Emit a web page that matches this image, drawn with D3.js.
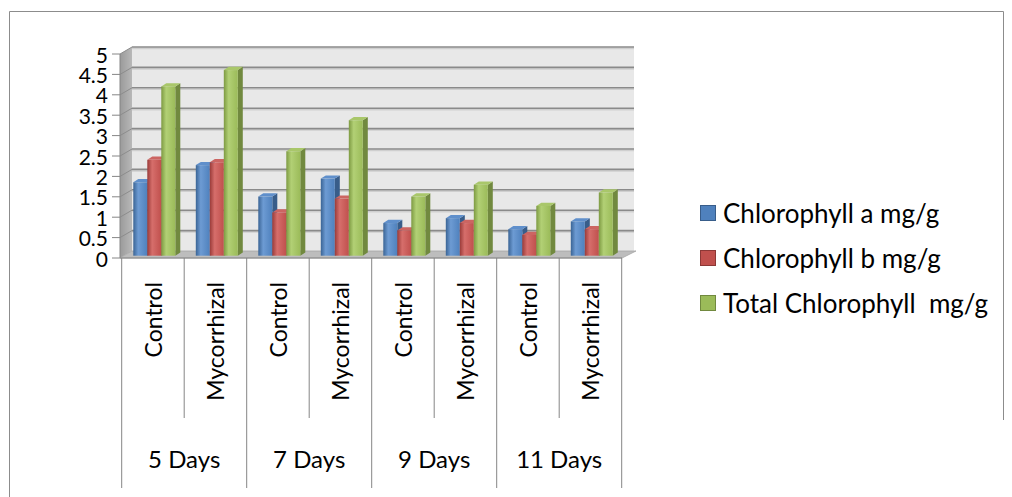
<!DOCTYPE html>
<html>
<head>
<meta charset="utf-8">
<script src="https://cdn.jsdelivr.net/npm/d3@7"></script>
<style>
  body { margin: 0; background: #fff; }
  svg { display: block; }
  text { font-family: Lato, "Open Sans", sans-serif; fill: #000; white-space: pre; }
</style>
</head>
<body>
<div id="chart"></div>
<script>
// chart data
const groups = ["5 Days", "7 Days", "9 Days", "11 Days"];
const treatments = ["Control", "Mycorrhizal"];
const seriesNames = ["Chlorophyll a mg/g", "Chlorophyll b mg/g", "Total Chlorophyll  mg/g"];
const chlA = [1.8, 2.22, 1.45, 1.89, 0.8, 0.92, 0.65, 0.84];
const chlB = [2.35, 2.29, 1.06, 1.4, 0.62, 0.8, 0.51, 0.65];
const chlTotal = [4.15, 4.55, 2.56, 3.32, 1.45, 1.74, 1.22, 1.55];
const yTicks = [0, 0.5, 1, 1.5, 2, 2.5, 3, 3.5, 4, 4.5, 5];

const colors = [
  {base: "#4f81bd", light: "#6d9bd3", dark: "#3a6495", side: "#385d8a", top: "#5f8fcb"},
  {base: "#c0504d", light: "#d66e6b", dark: "#9a3b39", side: "#8c3836", top: "#cc6562"},
  {base: "#9bbb59", light: "#b2d075", dark: "#7d9a42", side: "#71893f", top: "#a9c76a"}
];

const W = 1012, H = 497;
const depthX = 12, depthY = -7;   // 3d offset from front plane to back wall

const cats = [];
groups.forEach(g => treatments.forEach(t => cats.push(g + "|" + t)));
const values = [chlA, chlB, chlTotal];

const svg = d3.select("#chart").append("svg")
  .attr("width", W).attr("height", H);

const defs = svg.append("defs");
colors.forEach((c, i) => {
  const lg = defs.append("linearGradient").attr("id", "front" + i)
    .attr("x1", 0).attr("x2", 1).attr("y1", 0).attr("y2", 0);
  lg.append("stop").attr("offset", "0%").attr("stop-color", c.dark);
  lg.append("stop").attr("offset", "35%").attr("stop-color", c.light);
  lg.append("stop").attr("offset", "100%").attr("stop-color", c.base);
});
const wg = defs.append("linearGradient").attr("id", "sideWall")
  .attr("x1", 0).attr("x2", 1).attr("y1", 0).attr("y2", 0);
wg.append("stop").attr("offset", "0%").attr("stop-color", "#9a9a9a");
wg.append("stop").attr("offset", "100%").attr("stop-color", "#b8b8b8");

// outer frame
svg.append("path")
  .attr("d", "M9.5,497 V11.5 H1003.5 V420")
  .attr("fill", "none").attr("stroke", "#8c8c8c").attr("stroke-width", 1);

const x = d3.scaleBand().domain(cats).range([121.7, 621.7]);
const y = d3.scaleLinear().domain([0, 5]).range([258, 54]);
const xs = d3.scaleBand().domain([0, 1, 2]).range([0, 42]);

const left = 120, right = 622;

// back wall
svg.append("rect")
  .attr("x", left + depthX).attr("y", y(5) + depthY)
  .attr("width", right - left).attr("height", y(0) - y(5))
  .attr("fill", "#e8e8e8");

// side wall
svg.append("polygon")
  .attr("points", [[left, y(5)], [left + depthX, y(5) + depthY], [left + depthX, y(0) + depthY], [left, y(0)]].join(" "))
  .attr("fill", "url(#sideWall)");

// gridlines on back and side walls
const grid = svg.append("g");
yTicks.slice(1).forEach(t => {
  const yb = y(t) + depthY;
  grid.append("line")
    .attr("x1", left + depthX).attr("x2", right + depthX)
    .attr("y1", yb + 1.5).attr("y2", yb + 1.5)
    .attr("stroke", "#cfcfcf").attr("stroke-width", 1.5);
  grid.append("line")
    .attr("x1", left + depthX).attr("x2", right + depthX)
    .attr("y1", yb).attr("y2", yb)
    .attr("stroke", "#8a8a8a").attr("stroke-width", 1.6);
  grid.append("line")
    .attr("x1", left).attr("x2", left + depthX)
    .attr("y1", y(t)).attr("y2", yb)
    .attr("stroke", "#8c8c8c").attr("stroke-width", 1);
});

// floor
svg.append("polygon")
  .attr("points", [[left, y(0)], [right, y(0)], [right + depthX + 2, y(0) + depthY], [left + depthX, y(0) + depthY]].join(" "))
  .attr("fill", "#bdbdbd").attr("stroke", "#a6a6a6").attr("stroke-width", 0.8);

// bars (3d columns)
const barDepth = 5, barRise = -3.2;
const yBar = d3.scaleLinear().domain([0, 5]).range([255.7, 51.7]);
const bars = svg.append("g");
cats.forEach((c, ci) => {
  [0, 1, 2].forEach(si => {
    const v = values[si][ci];
    const x0 = x(c) + 11.6 + xs(si), bw = xs.bandwidth();
    const y0 = yBar(v), yb = yBar(0);
    const col = colors[si];
    const g = bars.append("g");
    g.append("polygon")
      .attr("points", [[x0 + bw, y0], [x0 + bw + barDepth, y0 + barRise], [x0 + bw + barDepth, yb + barRise], [x0 + bw, yb]].join(" "))
      .attr("fill", col.side);
    g.append("polygon")
      .attr("points", [[x0, y0], [x0 + barDepth, y0 + barRise], [x0 + bw + barDepth, y0 + barRise], [x0 + bw, y0]].join(" "))
      .attr("fill", col.top);
    g.append("rect")
      .attr("x", x0).attr("y", y0).attr("width", bw).attr("height", yb - y0)
      .attr("fill", "url(#front" + si + ")");
  });
});

// y axis
const yAxis = svg.append("g");
yAxis.append("line").attr("x1", left).attr("x2", left).attr("y1", y(5)).attr("y2", y(0))
  .attr("stroke", "#868686");
yTicks.forEach(t => {
  yAxis.append("line").attr("x1", 112).attr("x2", left)
    .attr("y1", y(t)).attr("y2", y(t)).attr("stroke", "#868686");
  yAxis.append("text").attr("x", 108).attr("y", y(t))
    .attr("text-anchor", "end").attr("dominant-baseline", "central")
    .style("font-size", "21px").text(t);
});

// category axis with two levels
const xAxis = svg.append("g");
xAxis.append("line").attr("x1", left).attr("x2", right).attr("y1", y(0)).attr("y2", y(0))
  .attr("stroke", "#868686");
cats.forEach((c, ci) => {
  const xl = x(c);
  const isGroupEdge = ci % 2 === 0;
  xAxis.append("line").attr("x1", xl).attr("x2", xl)
    .attr("y1", y(0)).attr("y2", isGroupEdge ? 488 : 418)
    .attr("stroke", "#868686");
  xAxis.append("text")
    .attr("transform", `translate(${xl + x.bandwidth() / 2},282) rotate(-90)`)
    .attr("text-anchor", "end").attr("dominant-baseline", "central")
    .style("font-size", "23px").text(c.split("|")[1]);
});
xAxis.append("line").attr("x1", x.range()[1]).attr("x2", x.range()[1])
  .attr("y1", y(0)).attr("y2", 488).attr("stroke", "#868686");
groups.forEach((g, gi) => {
  const xc = x(cats[gi * 2]) + x.bandwidth();
  xAxis.append("text").attr("x", xc).attr("y", 458)
    .attr("text-anchor", "middle").attr("dominant-baseline", "central")
    .style("font-size", "24px").text(g);
});

// legend
const legend = svg.append("g");
seriesNames.forEach((s, i) => {
  const ly = 213 + i * 45;
  legend.append("rect").attr("x", 700.5).attr("y", ly - 7.5).attr("width", 15).attr("height", 15)
    .attr("fill", colors[i].base).attr("stroke", colors[i].side).attr("stroke-width", 1);
  legend.append("text").attr("x", 723).attr("y", ly)
    .attr("dominant-baseline", "central")
    .style("font-size", "26px").text(s);
});
</script>
</body>
</html>
